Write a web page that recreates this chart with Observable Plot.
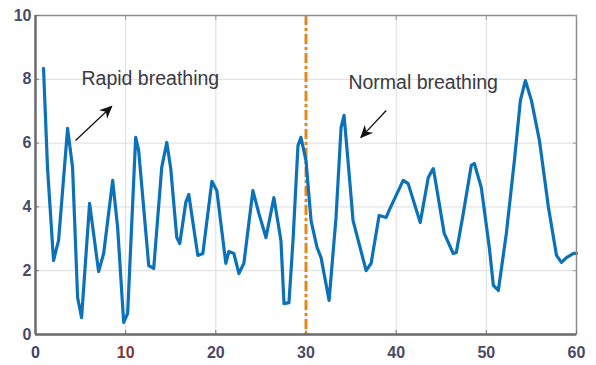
<!DOCTYPE html>
<html>
<head>
<meta charset="utf-8">
<script src="https://cdn.jsdelivr.net/npm/d3@7"></script>
<script src="https://cdn.jsdelivr.net/npm/@observablehq/plot@0.6"></script>
<style>
  html, body { margin: 0; padding: 0; background: #fff; }
  #chart svg { display: block; }
</style>
</head>
<body>
<div id="chart"></div>
<script>
// Time (s) and breathing signal values
const times = [0.89,1.33,2.0,2.56,3.56,4.11,4.67,5.11,6.0,7.0,7.56,8.56,9.11,9.78,10.22,11.11,11.44,12.56,13.11,14.0,14.56,15.0,15.67,16.0,16.67,17.0,18.0,18.56,19.56,20.11,21.11,21.44,22.0,22.56,23.11,24.11,24.78,25.56,26.44,27.22,27.56,28.11,28.56,29.11,29.44,30.0,30.56,31.22,31.67,32.56,33.33,33.89,34.22,34.78,35.22,36.67,37.22,38.11,38.89,39.22,40.78,41.33,42.67,43.56,44.11,44.22,45.33,46.33,46.67,47.44,48.33,48.67,49.44,50.33,50.78,51.33,52.22,53.11,53.78,54.33,55.0,55.89,56.89,57.78,58.33,58.89,59.67,60.0];
const values = [8.34,5.24,2.32,2.95,6.46,5.24,1.16,0.53,4.11,1.97,2.54,4.83,3.35,0.38,0.66,6.18,5.77,2.16,2.07,5.24,6.02,5.2,3.04,2.85,4.14,4.39,2.48,2.54,4.8,4.51,2.23,2.6,2.54,1.91,2.23,4.51,3.79,3.04,4.29,2.95,0.97,1.0,2.95,5.92,6.18,5.45,3.57,2.73,2.41,1.07,3.67,6.49,6.87,5.05,3.57,2.0,2.23,3.73,3.67,3.89,4.83,4.73,3.51,4.92,5.2,5.05,3.17,2.54,2.57,3.79,5.3,5.36,4.61,2.73,1.54,1.38,3.17,5.45,7.34,7.96,7.34,6.08,3.98,2.48,2.26,2.41,2.54,2.54];

const xTicks = [0,10,20,30,40,50,60];
const yTicks = [0,2,4,6,8,10];
const xGrid = [10,20,30,40,50];
const yGrid = [2,4,6,8];
const dividerX = [30];

const labels = ["Rapid breathing", "Normal breathing"];
const labelX = [5.1, 34.7];
const labelY = [8.02, 7.9];
const arrowX1 = [4.44, 38.9];
const arrowY1 = [6.08, 7.02];
const arrowX2 = [8.44, 36.1];
const arrowY2 = [7.15, 6.18];

const series = times.map((t, i) => ({t, v: values[i]}));
const notes = labels.map((text, i) => ({text, x: labelX[i], y: labelY[i]}));
const arrows = arrowX1.map((x1, i) => ({x1, y1: arrowY1[i], x2: arrowX2[i], y2: arrowY2[i]}));

// filled arrowhead marker
function filledHead(color, context) {
  const ns = "http://www.w3.org/2000/svg";
  const m = context.document.createElementNS(ns, "marker");
  m.setAttribute("viewBox", "0 -5 10 10");
  m.setAttribute("markerWidth", "13");
  m.setAttribute("markerHeight", "13");
  m.setAttribute("markerUnits", "userSpaceOnUse");
  m.setAttribute("refX", "9");
  m.setAttribute("orient", "auto");
  const p = context.document.createElementNS(ns, "path");
  p.setAttribute("d", "M0,-4.5L10,0L0,4.5L3,0Z");
  p.setAttribute("fill", color);
  p.setAttribute("stroke", "none");
  m.appendChild(p);
  return m;
}

const chart = Plot.plot({
  width: 596,
  height: 365,
  marginLeft: 35,
  marginRight: 20,
  marginTop: 15,
  marginBottom: 31,
  style: {fontFamily: "Liberation Sans, Arial, sans-serif", background: "#fff"},
  x: {domain: [0, 60]},
  y: {domain: [0, 10]},
  marks: [
    Plot.gridX(xGrid, {stroke: "#dcdcdc", strokeOpacity: 1, strokeWidth: 1}),
    Plot.gridY(yGrid, {stroke: "#dcdcdc", strokeOpacity: 1, strokeWidth: 1}),
    Plot.ruleX(dividerX, {stroke: "#e08a1c", strokeWidth: 3, strokeDasharray: "10,3,3,3"}),
    Plot.line(series, {x: "t", y: "v", stroke: "#0b72ba", strokeWidth: 3.2, strokeLinejoin: "round", curve: "linear"}),
    Plot.text(notes, {x: "x", y: "y", text: "text", textAnchor: "start", fontSize: 19.5, fill: "#3a3a42"}),
    Plot.link(arrows, {x1: "x1", y1: "y1", x2: "x2", y2: "y2", stroke: "#111", strokeWidth: 1.3, markerEnd: filledHead}),
    Plot.frame({stroke: "#8c8c8c", strokeWidth: 1.5}),
    Plot.axisX({ticks: xTicks, tickSize: -4, stroke: "#777", fontSize: 16, fontWeight: "bold", fill: "#4a4a68", tickPadding: 16, label: null}),
    Plot.axisX({ticks: xTicks, anchor: "top", tickSize: -4, stroke: "#999", text: null, label: null}),
    Plot.axisY({ticks: yTicks, tickSize: -4, stroke: "#777", fontSize: 16, fontWeight: "bold", fill: "#4a4a68", tickPadding: 8, label: null}),
    Plot.axisY({ticks: yTicks, anchor: "right", tickSize: -4, stroke: "#999", text: null, label: null}),
    Plot.ruleY([0], {stroke: "#6e6e6e", strokeWidth: 2.5}),
    Plot.ruleX([0], {stroke: "#6e6e6e", strokeWidth: 2.5})
  ]
});

document.getElementById("chart").appendChild(chart);

// tint individual x tick labels as in the picture
d3.select(chart).selectAll("[aria-label='x-axis tick label'] text").each(function() {
  const t = d3.select(this).text();
  if (t === "0") d3.select(this).attr("fill", "#3b3f72");
  if (t === "10") d3.select(this).attr("fill", "#7a3a34");
});
</script>
</body>
</html>
